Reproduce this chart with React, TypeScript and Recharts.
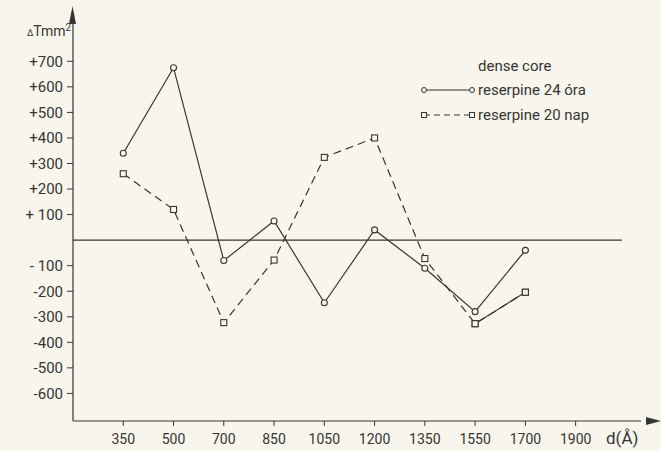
import React from 'react';
import {
  LineChart,
  Line,
  XAxis,
  YAxis,
  ReferenceLine,
} from 'recharts';

// d (Å) categories, plotted at evenly spaced positions 1..10
const categories = ['350', '500', '700', '850', '1050', '1200', '1350', '1550', '1700', '1900'];

// ΔT mm² values
const ora24 = [340, 675, -80, 75, -245, 40, -110, -280, -40, null];
const nap20 = [260, 120, -323, -78, 324, 400, -72, -327, -204, null];

const yTicks = [-600, -500, -400, -300, -200, -100, 100, 200, 300, 400, 500, 600, 700];

const INK = '#353533';
const PAPER = '#f8f6ec';
const FONT = 'Roboto, "DejaVu Sans", sans-serif';

// the 20 nap line is drawn solid between 1550 and 1700
const nap20Tail = nap20.map((v, i) => (i >= 7 ? v : null));

const data = categories.map((c, i) => ({
  pos: i + 1,
  label: c,
  ora24: ora24[i],
  nap20: nap20[i],
  nap20Tail: nap20Tail[i],
}));

const fmtY = (v: number) => {
  if (v === 100) return '+ 100';
  if (v === -100) return '- 100';
  return v > 0 ? `+${v}` : `-${Math.abs(v)}`;
};

const CircleDot = (props: any) => {
  const { cx, cy, value } = props;
  if (value == null || cx == null) return null;
  return <circle cx={cx} cy={cy} r={3} fill={PAPER} stroke={INK} strokeWidth={1.1} />;
};

const SquareDot = (props: any) => {
  const { cx, cy, value } = props;
  if (value == null || cx == null) return null;
  return <rect x={cx - 3} y={cy - 3} width={6} height={6} fill={PAPER} stroke={INK} strokeWidth={1.1} />;
};

const textStyle: React.CSSProperties = {
  position: 'absolute',
  fontFamily: FONT,
  color: INK,
  fontSize: 15,
  whiteSpace: 'nowrap',
  lineHeight: 1,
};

export default function App() {
  return (
    <div style={{ position: 'absolute', left: 0, top: 0, width: 661, height: 451, background: PAPER }}>
      <LineChart
        width={661}
        height={451}
        data={data}
        margin={{ top: 23, right: 20, bottom: 0, left: 13 }}
      >
        <XAxis
          dataKey="pos"
          type="number"
          domain={[0, 11.3]}
          ticks={[1, 2, 3, 4, 5, 6, 7, 8, 9, 10]}
          tickFormatter={(v: number) => categories[v - 1]}
          allowDataOverflow
          height={30}
          axisLine={{ stroke: INK, strokeWidth: 1.2 }}
          tickLine={{ stroke: INK }}
          tickSize={5}
          tickMargin={8}
          tick={{ fill: INK, fontSize: 14, fontFamily: FONT }}
        />
        <YAxis
          type="number"
          domain={[-708, 850]}
          ticks={yTicks}
          tickFormatter={fmtY}
          allowDataOverflow
          width={60}
          axisLine={{ stroke: INK, strokeWidth: 1.2 }}
          tickLine={{ stroke: INK }}
          tickSize={6}
          tickMargin={4}
          tick={{ fill: INK, fontSize: 15, fontFamily: FONT }}
        />
        <ReferenceLine
          segment={[{ x: 0, y: 0 }, { x: 10.92, y: 0 }]}
          stroke={INK}
          strokeWidth={1.3}
        />
        <Line
          dataKey="ora24"
          stroke={INK}
          strokeWidth={1.2}
          dot={<CircleDot />}
          activeDot={false}
          isAnimationActive={false}
        />
        <Line
          dataKey="nap20"
          stroke={INK}
          strokeWidth={1.2}
          strokeDasharray="8 5"
          dot={<SquareDot />}
          activeDot={false}
          isAnimationActive={false}
        />
        <Line
          dataKey="nap20Tail"
          stroke={INK}
          strokeWidth={1.2}
          dot={<SquareDot />}
          activeDot={false}
          isAnimationActive={false}
        />
      </LineChart>

      {/* axis arrowheads */}
      <svg width={661} height={451} style={{ position: 'absolute', left: 0, top: 0, pointerEvents: 'none' }}>
        <path d="M69,24 L72.5,6 L76,24 z" fill={INK} />
        <path d="M646,417 L661,421 L646,425 z" fill={INK} />
      </svg>

      <div style={{ ...textStyle, left: 27, top: 23, fontSize: 14 }}>
        <span style={{ fontSize: 9 }}>Δ</span>Tmm<sup style={{ fontSize: 10, verticalAlign: 5 }}>2</sup>
      </div>
      <div style={{ ...textStyle, left: 606, top: 430, fontSize: 17 }}>d(Å)</div>

      {/* legend */}
      <div style={{ ...textStyle, left: 478, top: 59 }}>dense core</div>
      <svg width={60} height={50} style={{ position: 'absolute', left: 418, top: 80 }}>
        <line x1={6} y1={10} x2={54} y2={10} stroke={INK} strokeWidth={1.2} />
        <circle cx={6} cy={10} r={2.5} fill={PAPER} stroke={INK} strokeWidth={1} />
        <circle cx={54} cy={10} r={2.5} fill={PAPER} stroke={INK} strokeWidth={1} />
        <line x1={6} y1={35} x2={54} y2={35} stroke={INK} strokeWidth={1.2} strokeDasharray="6 4" />
        <rect x={3.5} y={32.5} width={5} height={5} fill={PAPER} stroke={INK} strokeWidth={1} />
        <rect x={51.5} y={32.5} width={5} height={5} fill={PAPER} stroke={INK} strokeWidth={1} />
      </svg>
      <div style={{ ...textStyle, left: 478, top: 83 }}>reserpine 24 óra</div>
      <div style={{ ...textStyle, left: 478, top: 108 }}>reserpine 20 nap</div>
    </div>
  );
}
